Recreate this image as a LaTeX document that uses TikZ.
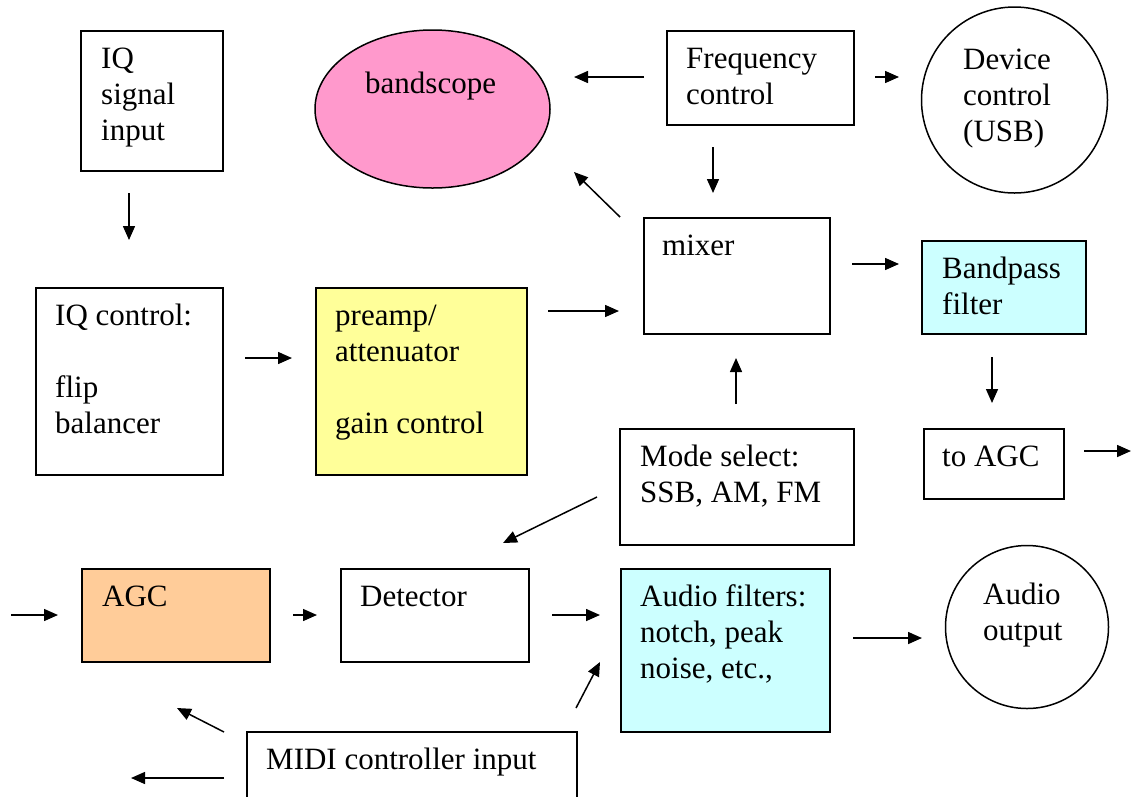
\documentclass[tikz,border=0pt]{standalone}
\usepackage{fontspec}
\setmainfont{Liberation Serif}
\usetikzlibrary{arrows.meta,shapes.geometric}
\definecolor{pinkfill}{HTML}{FF99CC}
\definecolor{yellowfill}{HTML}{FFFF99}
\definecolor{cyanfill}{HTML}{CCFFFF}
\definecolor{orangefill}{HTML}{FFCC99}
\begin{document}
\begin{tikzpicture}[x=1pt,y=-1pt,
  box/.style={draw, line width=1.5pt, inner sep=0pt, anchor=north west},
  roundbox/.style={draw, line width=1.5pt, inner sep=0pt, circle},
  txt/.style={inner sep=0pt, anchor=north west, align=left, font=\fontsize{31}{36}\selectfont},
  arr/.style={line width=1.5pt, -{Triangle[length=14pt,width=12pt]}}]
\useasboundingbox (0,0) rectangle (1134,796);
\clip (0,0) rectangle (1134,796);
% shapes
\node[box, minimum width=142pt, minimum height=140pt] (iqs) at (80,30) {};
\node[draw, line width=1.5pt, ellipse, fill=pinkfill, minimum width=235pt, minimum height=158pt, inner sep=0pt] (bs) at (432.5,109) {};
\node[box, minimum width=187pt, minimum height=94pt] (fc) at (666,30) {};
\node[roundbox, minimum size=186pt] (dc) at (1014.5,100) {};
\node[box, minimum width=186pt, minimum height=116pt] (mx) at (643,217) {};
\node[box, fill=cyanfill, minimum width=164pt, minimum height=93pt] (bp) at (921,240) {};
\node[box, minimum width=187pt, minimum height=187pt] (iqc) at (35,287) {};
\node[box, fill=yellowfill, minimum width=211pt, minimum height=187pt] (pa) at (315,287) {};
\node[box, minimum width=234pt, minimum height=116pt] (ms) at (619,428) {};
\node[box, minimum width=140pt, minimum height=70pt] (ta) at (923,428) {};
\node[box, fill=orangefill, minimum width=188pt, minimum height=93pt] (ag) at (81,568) {};
\node[box, minimum width=188pt, minimum height=93pt] (dt) at (340,568) {};
\node[box, fill=cyanfill, minimum width=209pt, minimum height=163pt] (af) at (620,568) {};
\node[roundbox, minimum size=163pt] (ao) at (1027,627) {};
\node[box, minimum width=330pt, minimum height=80pt] (mid) at (246,731) {};
% texts (first baseline = y + 25.2)
\node[txt] (iqst) at (101,42.8) {\strut IQ\\signal\\input};
\node[txt] (bst) at (365,67.8) {\strut bandscope};
\node[txt] (fct) at (686,42.8) {\strut Frequency\\control};
\node[txt] (dct) at (963,43.8) {\strut Device\\control\\(USB)};
\node[txt] (mxt) at (662,229.8) {\strut mixer};
\node[txt] (bpt) at (942,252.8) {\strut Bandpass\\filter};
\node[txt] (iqct) at (55,299.8) {\strut IQ control:\\[36pt]flip\\balancer};
\node[txt] (pat) at (335,299.8) {\strut preamp/\\attenuator\\[36pt]gain control};
\node[txt] (mst) at (640,440.8) {\strut Mode select:\\SSB, AM, FM};
\node[txt] (tat) at (942,440.8) {\strut to AGC};
\node[txt] (agt) at (102,580.8) {\strut AGC};
\node[txt] (dtt) at (360,580.8) {\strut Detector};
\node[txt] (aft) at (640,580.8) {\strut Audio filters:\\notch, peak\\noise, etc.,};
\node[txt] (aot) at (983,578.8) {\strut Audio\\output};
\node[txt] (midt) at (266,743.8) {\strut MIDI controller input};
% arrows
\foreach \n/\sx/\sy/\ex/\ey in {
  1/644/77/574/77, 2/875/77/899/77, 3/713/147/713/193, 4/620/217/574/172,
  5/129/193/129/240, 6/548/311/619/311, 7/245/358/292/358, 8/852/264/899/264,
  9/992/357/992/403, 10/1084/451/1131/451, 11/736/404/736/358, 12/597/497/503/543,
  13/11/615/58/615, 14/293/615/317/615, 15/552/615/600/615, 16/576/708/600/662,
  17/853/638/922/638, 18/224/732/177/708, 19/224/778/131/778}{
  \coordinate (a\n s) at (\sx,\sy);
  \coordinate (a\n e) at (\ex,\ey);
  \draw[arr] (a\n s) -- (a\n e);
}
\end{tikzpicture}
\end{document}
